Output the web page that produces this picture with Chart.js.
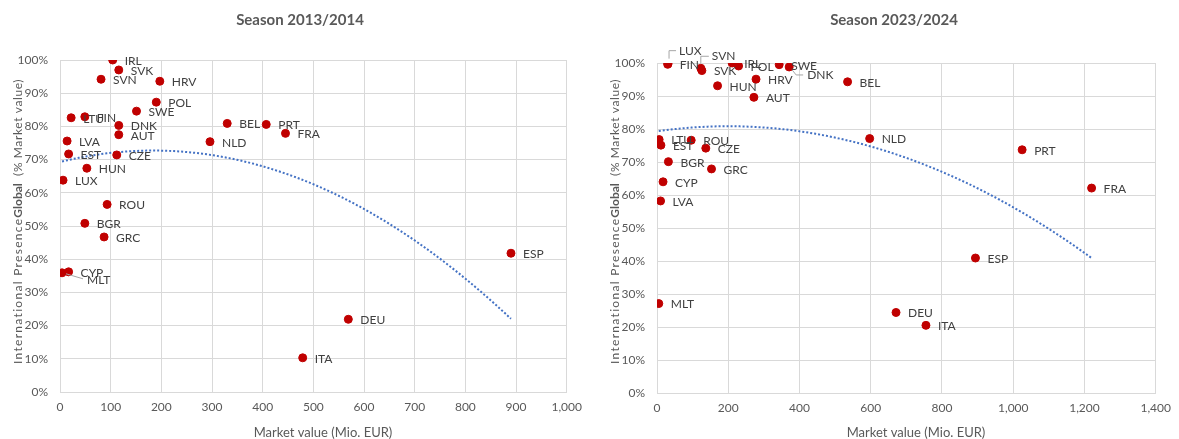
<!DOCTYPE html>
<html><head><meta charset="utf-8">
<script src="https://cdn.jsdelivr.net/npm/chart.js@4.4.1/dist/chart.umd.min.js"></script>
<style>
html,body{margin:0;padding:0;background:#fff;}
#wrap{position:relative;width:1179px;height:439px;overflow:hidden;}
.c{position:absolute;top:0;height:439px;}
</style></head><body>
<div id="wrap">
<div class="c" style="left:0;width:590px"><canvas id="c1"></canvas></div>
<div class="c" style="left:590px;width:589px"><canvas id="c2"></canvas></div>
</div>
<script>
// ---- Data: Season 2013/2014 ----
const countries2014 = ['IRL','SVK','SVN','HRV','POL','SWE','FIN','LTU','DNK','AUT','BEL','PRT','FRA','LVA','NLD','EST','CZE','HUN','LUX','ROU','BGR','GRC','CYP','MLT','ESP','DEU','ITA'];
const marketValue2014 = [104,116,81,197,190,151,49,22,116,116,330,407,445,14,296,17,112,53,6,93,49,87,17,4,890,569,479];
const presence2014 = [100,97.0,94.2,93.6,87.3,84.6,82.9,82.6,80.3,77.5,80.9,80.6,77.9,75.6,75.4,71.7,71.4,67.4,63.8,56.5,50.8,46.7,36.2,35.9,41.8,21.9,10.3];

// ---- Data: Season 2023/2024 ----
const countries2024 = ['LUX','FIN','SVN','SVK','IRL','POL','SWE','DNK','HRV','BEL','HUN','AUT','LTU','EST','ROU','CZE','BGR','GRC','CYP','LVA','NLD','MLT','PRT','FRA','ESP','DEU','ITA'];
const marketValue2024 = [31,30,123,126,211,229,343,371,278,535,170,272,6,11,96,137,32,153,17,10,597,5,1025,1220,894,671,755];
const presence2024 = [99.8,99.6,98.4,97.7,100,99.1,99.5,98.8,95.1,94.3,93.1,89.6,76.8,75.1,76.6,74.2,70.1,67.9,64.0,58.2,77.1,27.1,73.7,62.1,40.9,24.4,20.5];

// ---- Axis tick settings ----
const xMax2014 = 1000, xStep2014 = 100;
const xMax2024 = 1400, xStep2024 = 200;
const yTicksMax = 100, yStep = 10;

const titles = ['Season 2013/2014','Season 2023/2024'];
const xAxisTitle = 'Market value (Mio. EUR)';
const yAxisTitleParts = ['International Presence','Global','  (% Market value)'];

// Label placement overrides (label layout, not data)
const labelOffsets2014 = {
  MLT:{dx:25,dy:7,leader:[[4,1],[21,6]]}
};
const labelOffsets2024 = {
  LUX:{dx:11,dy:-13,leader:[[1,-5],[1,-13],[8,-13]]},
  SVN:{dx:11,dy:-12,leader:[[0,-5],[0,-12],[8,-12]]},
  DNK:{dx:18,dy:8,leader:[[3,3],[7,8],[14,8]]}
};

// least squares quadratic trendline (Excel polynomial order 2)
function polyFit2(xs, ys){
  let n=xs.length,s=[0,0,0,0,0],t=[0,0,0];
  for(let i=0;i<n;i++){const x=xs[i],y=ys[i];let p=1;for(let k=0;k<5;k++){s[k]+=p;if(k<3)t[k]+=p*y;p*=x;}}
  const A=[[s[0],s[1],s[2],t[0]],[s[1],s[2],s[3],t[1]],[s[2],s[3],s[4],t[2]]];
  for(let i=0;i<3;i++){for(let j=i+1;j<3;j++){const f=A[j][i]/A[i][i];for(let k=i;k<4;k++)A[j][k]-=f*A[i][k];}}
  const c=[0,0,0];
  for(let i=2;i>=0;i--){let v=A[i][3];for(let k=i+1;k<3;k++)v-=A[i][k]*c[k];c[i]=v/A[i][i];}
  return c;
}
function trendPoints(xs, ys){
  const c=polyFit2(xs,ys);
  const lo=Math.min(...xs), hi=Math.max(...xs), pts=[];
  for(let i=0;i<=80;i++){const x=lo+(hi-lo)*i/80;pts.push({x, y:c[0]+c[1]*x+c[2]*x*x});}
  return pts;
}

const FONT='Lato';
const labelPlugin = {
  id:'ptLabels',
  afterDatasetsDraw(chart, args, opts){
    const meta = chart.getDatasetMeta(0);
    const ctx = chart.ctx;
    ctx.save();
    ctx.font = '12px '+FONT; ctx.textBaseline='middle'; ctx.textAlign='left';
    meta.data.forEach((el,i)=>{
      const name = opts.names[i];
      const o = opts.offsets[name] || {dx:12, dy:1};
      if(o.leader){
        ctx.strokeStyle='#a6a6a6'; ctx.lineWidth=1; ctx.beginPath();
        o.leader.forEach((p,j)=>{const X=el.x+p[0],Y=el.y+p[1]; j?ctx.lineTo(X,Y):ctx.moveTo(X,Y);});
        ctx.stroke();
      }
      ctx.fillStyle='#404040';
      ctx.fillText(name, el.x+o.dx, el.y+o.dy);
    });
    ctx.restore();
  }
};
const textPlugin = {
  id:'texts',
  afterDraw(chart, args, opts){
    const ctx=chart.ctx;
    ctx.save();
    ctx.fillStyle='#595959';
    ctx.font='bold 15px '+FONT; ctx.textAlign='center'; ctx.textBaseline='middle';
    ctx.fillText(opts.title, opts.titleX, 20);
    ctx.font='13px '+FONT;
    ctx.fillText(xAxisTitle, opts.xTitleX, 433);
    ctx.translate(opts.yTitleX, 364);
    ctx.rotate(-Math.PI/2);
    ctx.textAlign='left';
    let pos=0;
    const fonts=['12px '+FONT,'bold 12px '+FONT,'12px '+FONT];
    const spacing=['1.3px','0px','0.6px'];
    yAxisTitleParts.forEach((t,i)=>{
      ctx.font=fonts[i];
      ctx.letterSpacing=spacing[i];
      ctx.fillText(t,pos,0);
      pos+=ctx.measureText(t).width;
    });
    ctx.restore();
  }
};

function makeChart(id, names, xs, ys, xMax, xStep, pad, yW, xH, offsets, textOpts){
  return new Chart(document.getElementById(id), {
    type:'scatter',
    data:{datasets:[
      {data:xs.map((x,i)=>({x, y:ys[i]})), backgroundColor:'#c00000', borderColor:'#c00000', pointRadius:4, pointHoverRadius:4, order:0},
      {type:'line', data:trendPoints(xs,ys), borderColor:'#4472c4', borderWidth:2, borderDash:[2,2], pointRadius:0, fill:false, tension:0, order:1}
    ]},
    options:{
      responsive:true, maintainAspectRatio:false, animation:false,
      layout:{padding:pad},
      plugins:{legend:{display:false}, tooltip:{enabled:false},
        ptLabels:{names, offsets}, texts:textOpts},
      scales:{
        x:{type:'linear', min:0, max:xMax,
          ticks:{stepSize:xStep, color:'#595959', font:{family:FONT,size:12}, padding:8, maxRotation:0,
            callback:v=>v.toLocaleString('en-US')},
          grid:{color:'#d9d9d9', lineWidth:1, drawTicks:false}, border:{color:'#d9d9d9'},
          afterFit:s=>{s.height=xH;}},
        y:{type:'linear', min:0, max:yTicksMax,
          ticks:{stepSize:yStep, color:'#595959', font:{family:FONT,size:12}, padding:12,
            callback:v=>v+'%'},
          grid:{color:'#d9d9d9', lineWidth:1, drawTicks:false}, border:{color:'#d9d9d9'},
          afterFit:s=>{s.width=yW;}}
      }
    },
    plugins:[labelPlugin, textPlugin]
  });
}

makeChart('c1', countries2014, marketValue2014, presence2014, xMax2014, xStep2014,
  {left:0, top:60, right:22, bottom:0}, 60, 47, labelOffsets2014,
  {title:titles[0], titleX:300, xTitleX:323, yTitleX:18});
makeChart('c2', countries2024, marketValue2024, presence2024, xMax2024, xStep2024,
  {left:0, top:63, right:18, bottom:0}, 67, 46, labelOffsets2024,
  {title:titles[1], titleX:304, xTitleX:326, yTitleX:25});
</script>
</body></html>
